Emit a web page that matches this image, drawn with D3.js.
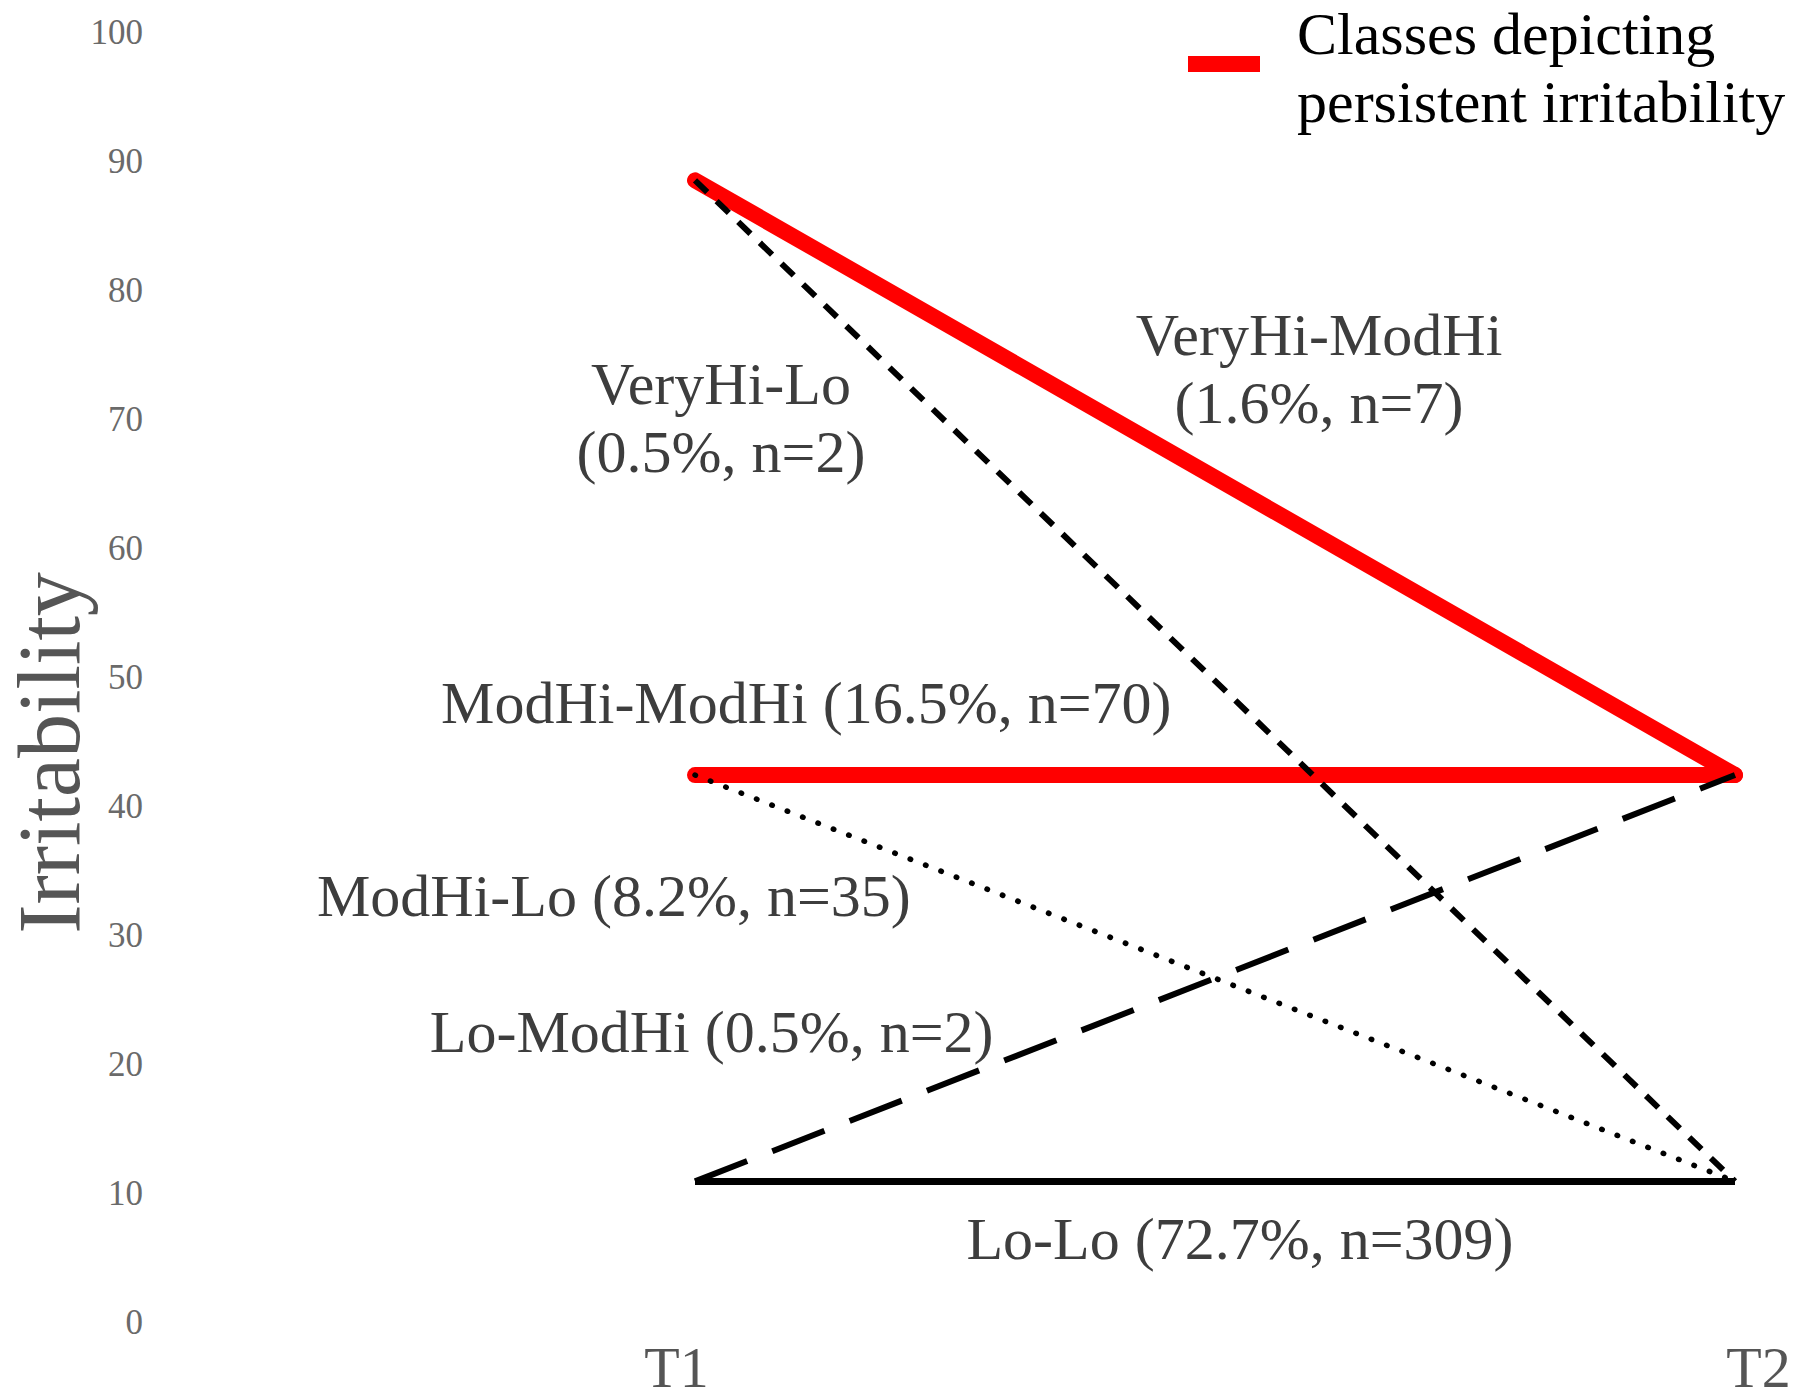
<!DOCTYPE html>
<html>
<head>
<meta charset="utf-8">
<script src="https://cdn.jsdelivr.net/npm/d3@7"></script>
<style>
  body { margin: 0; background: #fff; }
  text { font-family: "Liberation Serif", "Times New Roman", serif; }
</style>
</head>
<body>
<div id="my_dataviz"></div>
<script>

// data
var times = ["T1", "T2"];
var classNames = ["VeryHi-ModHi", "VeryHi-Lo", "ModHi-ModHi", "ModHi-Lo", "Lo-ModHi", "Lo-Lo"];
var valuesT1 = [88.5, 88.5, 42.4, 42.4, 10.9, 10.9];
var valuesT2 = [42.4, 10.9, 42.4, 10.9, 42.4, 10.9];
var percents = ["1.6", "0.5", "16.5", "8.2", "0.5", "72.7"];
var counts = [7, 2, 70, 35, 2, 309];
var persistent = [true, false, true, false, false, false];
var yTicks = [0, 10, 20, 30, 40, 50, 60, 70, 80, 90, 100];

// line styles for each class
var dashes = {
  "VeryHi-ModHi": null,
  "VeryHi-Lo": "17,13",
  "ModHi-ModHi": null,
  "ModHi-Lo": "0.5,16",
  "Lo-ModHi": "56,27",
  "Lo-Lo": null
};

// where the class labels sit (time fraction, irritability) and how they wrap
var labelSpots = {
  "VeryHi-ModHi": {t: 0.60, v: 75.0, wrap: true},
  "VeryHi-Lo":    {t: 0.025, v: 71.2, wrap: true},
  "ModHi-ModHi":  {t: 0.107, v: 46.4, wrap: false},
  "ModHi-Lo":     {t: -0.078, v: 31.5, wrap: false},
  "Lo-ModHi":     {t: 0.016, v: 20.9, wrap: false},
  "Lo-Lo":        {t: 0.524, v: 4.9, wrap: false}
};

var W = 1800, H = 1400;

var svg = d3.select("#my_dataviz")
  .append("svg")
    .attr("width", W)
    .attr("height", H);

// scales
var x = d3.scalePoint()
  .domain(times)
  .range([695, 1735]);

var y = d3.scaleLinear()
  .domain([0, 100])
  .range([1322, 32]);

var frac = d3.scaleLinear().domain([0, 1]).range(x.range());

// y axis: labels only
svg.append("g")
    .attr("transform", "translate(143,0)")
    .call(d3.axisLeft(y).tickValues(yTicks).tickSize(0).tickPadding(0))
    .call(function(g) { g.select(".domain").remove(); })
    .selectAll("text")
      .style("font-family", "'Liberation Serif', 'Times New Roman', serif")
      .style("font-size", "35px")
      .style("fill", "#6a6a6a");

// x axis: labels only
svg.append("g")
    .attr("transform", "translate(0,1346)")
    .call(d3.axisBottom(x).tickSize(0).tickPadding(0))
    .call(function(g) { g.select(".domain").remove(); })
    .selectAll("text")
      .attr("dx", function(d) { return d === "T1" ? -19 : 23; })
      .style("font-family", "'Liberation Serif', 'Times New Roman', serif")
      .style("font-size", "58px")
      .style("fill", "#555");

// y title
svg.append("text")
    .attr("transform", "translate(79,753) rotate(-90)")
    .attr("text-anchor", "middle")
    .style("font-size", "88px")
    .style("fill", "#555")
    .text("Irritability");

// rows
var rows = classNames.map(function(c, i) {
  return {name: c, t1: valuesT1[i], t2: valuesT2[i], pct: percents[i], n: counts[i], red: persistent[i]};
});

var line = d3.line()
  .x(function(d) { return x(d.t); })
  .y(function(d) { return y(d.v); });

function pts(d) { return [{t: "T1", v: d.t1}, {t: "T2", v: d.t2}]; }

// red (persistent) lines first, black ones over them
svg.selectAll(".red")
  .data(rows.filter(function(d) { return d.red; }))
  .enter()
  .append("path")
    .attr("d", function(d) { return line(pts(d)); })
    .style("fill", "none")
    .style("stroke", "#ff0000")
    .style("stroke-width", 16)
    .style("stroke-linecap", "round")
    .style("stroke-linejoin", "round");

svg.selectAll(".blk")
  .data(rows.filter(function(d) { return !d.red; }))
  .enter()
  .append("path")
    .attr("d", function(d) { return line(pts(d)); })
    .style("fill", "none")
    .style("stroke", "#000")
    .style("stroke-width", function(d) { return d.name === "Lo-Lo" ? 7 : (d.name === "ModHi-Lo" ? 5.5 : 6); })
    .style("stroke-linecap", function(d) { return d.name === "ModHi-Lo" ? "round" : "butt"; })
    .style("stroke-dasharray", function(d) { return dashes[d.name]; });

// class labels
rows.forEach(function(d) {
  var s = labelSpots[d.name];
  var stats = "(" + d.pct + "%, n=" + d.n + ")";
  var t = svg.append("text")
    .attr("x", frac(s.t))
    .attr("y", y(s.v))
    .attr("text-anchor", "middle")
    .style("font-size", "60px")
    .style("fill", "#3d3d3d");
  if (s.wrap) {
    t.append("tspan").attr("x", frac(s.t)).text(d.name);
    t.append("tspan").attr("x", frac(s.t)).attr("dy", 68).text(stats);
  } else {
    t.text(d.name + " " + stats);
  }
});

// legend
svg.append("rect")
    .attr("x", 1188)
    .attr("y", 56)
    .attr("width", 72)
    .attr("height", 16)
    .style("fill", "#ff0000");

var leg = svg.append("text")
    .attr("x", 1297)
    .attr("y", 54)
    .style("font-size", "60px")
    .style("fill", "#000");
leg.append("tspan").attr("x", 1297).text("Classes depicting");
leg.append("tspan").attr("x", 1297).attr("dy", 68).text("persistent irritability");

</script>
</body>
</html>
